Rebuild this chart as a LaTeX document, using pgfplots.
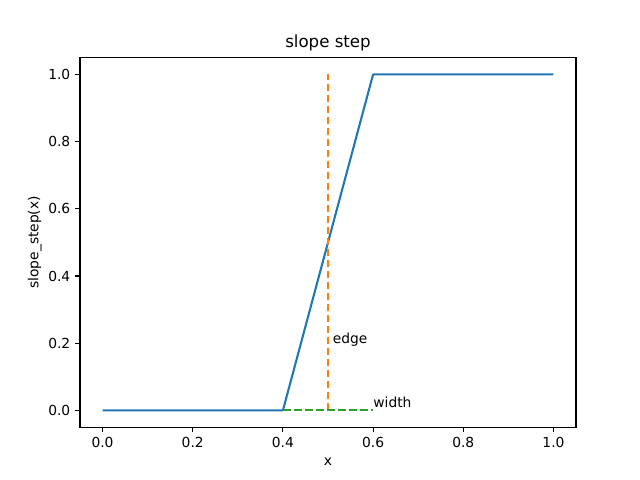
\documentclass[border=0pt]{standalone}
\usepackage{pgfplots}
\pgfplotsset{compat=1.18}
\usepackage{fontspec}
\setmainfont{DejaVu Sans}
\definecolor{C0}{HTML}{1F77B4}
\definecolor{C1}{HTML}{FF7F0E}
\definecolor{C2}{HTML}{2CA02C}
\begin{document}
\begin{tikzpicture}
\path (0,0) rectangle (6.4in,4.8in);
\begin{axis}[
  at={(0.8in,0.528in)}, anchor=south west,
  scale only axis, width=4.96in, height=3.696in,
  xmin=-0.05, xmax=1.05, ymin=-0.05, ymax=1.05,
  xtick={0,0.2,...,1.0}, ytick={0,0.2,...,1.0},
  xticklabel style={/pgf/number format/.cd,fixed,fixed zerofill,precision=1},
  yticklabel style={/pgf/number format/.cd,fixed,fixed zerofill,precision=1},
  /pgf/number format/assume math mode=true,
  tick align=outside, major tick length=3.5pt,
  xtick pos=left, ytick pos=left,
  tick style={black, line width=0.8pt},
  axis line style={line width=0.8pt},
  ticklabel style={font=\fontsize{10}{12}\selectfont},
  title={slope step}, title style={font=\fontsize{12}{14}\selectfont, yshift=-5pt},
  xlabel={x}, ylabel={slope\_step(x)},
  label style={font=\fontsize{10}{12}\selectfont},
  xlabel style={yshift=-1pt},
  ylabel style={yshift=-2pt},
]
\addplot[C0, line width=1.5pt, line join=round] coordinates {(0,0) (0.4,0) (0.6,1) (1,1)};
\addplot[C1, line width=1.5pt, dash pattern=on 5.55pt off 2.4pt] coordinates {(0.5,0) (0.5,1)};
\addplot[C2, line width=1.5pt, dash pattern=on 5.55pt off 2.4pt] coordinates {(0.4,0) (0.6,0)};
\node[anchor=base west, inner sep=0pt, font=\fontsize{10}{12}\selectfont] at (axis cs:0.51,0.2) {edge};
\node[anchor=base west, inner sep=0pt, font=\fontsize{10}{12}\selectfont] at (axis cs:0.6,0.01) {width};
\end{axis}
\end{tikzpicture}
\end{document}
